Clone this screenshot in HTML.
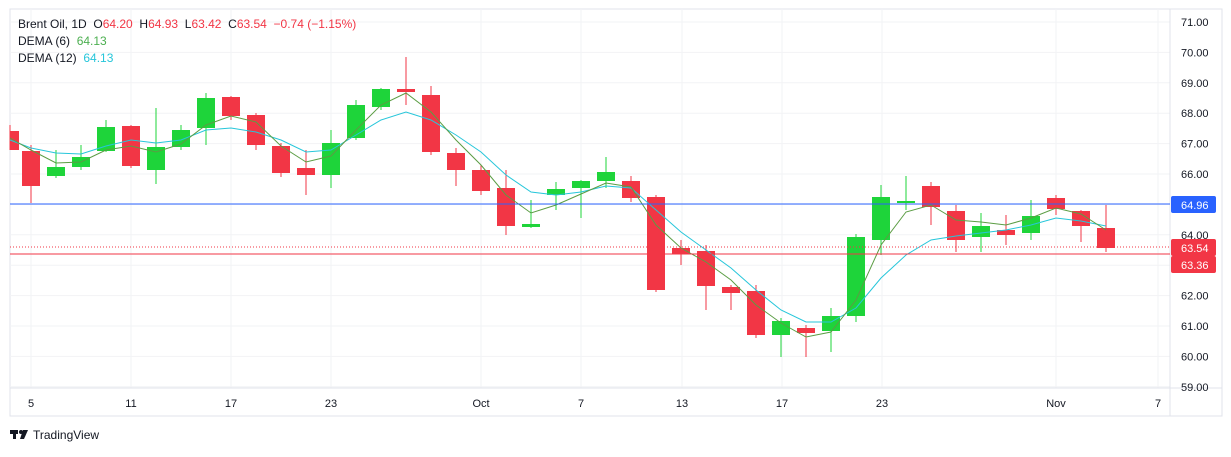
<!DOCTYPE html>
<html><head><meta charset="utf-8"><style>
body{margin:0;background:#fff;width:1231px;height:452px;overflow:hidden;font-family:"Liberation Sans",sans-serif}
svg text{font-family:"Liberation Sans",sans-serif}
.lg{white-space:pre}
</style></head><body>
<svg width="1231" height="452" xmlns="http://www.w3.org/2000/svg">
<rect x="10" y="9" width="1212" height="407" fill="#fff" stroke="#e0e3eb"/>
<g id="grid" stroke="#f2f3f5"></g>
<line x1="1170" y1="9" x2="1170" y2="416" stroke="#e0e3eb"/>
<line x1="10" y1="388" x2="1222" y2="388" stroke="#e0e3eb"/>
<g id="cand"></g>
<polyline id="d12" fill="none" stroke="#26c6da" stroke-width="1"/>
<polyline id="d6" fill="none" stroke="#5b9d44" stroke-width="1"/>
<line x1="10" y1="204" x2="1170" y2="204" stroke="#2962ff"/>
<line x1="10" y1="254" x2="1170" y2="254" stroke="#f23645"/>
<line x1="10" y1="247" x2="1170" y2="247" stroke="#f23645" stroke-dasharray="1,2"/>
<g id="ax" font-size="11" fill="#131722"></g>
<rect x="1171" y="196" width="45" height="17" fill="#2962ff" rx="2"/>
<text x="1181" y="209" font-size="11" fill="#fff">64.96</text>
<rect x="1171" y="239" width="45" height="17" fill="#f23645" rx="2"/>
<text x="1181" y="252" font-size="11" fill="#fff">63.54</text>
<rect x="1171" y="256" width="45" height="17" fill="#f23645" rx="2"/>
<text x="1181" y="269" font-size="11" fill="#fff">63.36</text>
<text class="lg" x="18" y="28" font-size="12" fill="#131722">Brent Oil, 1D  O<tspan fill="#f23645">64.20</tspan>  H<tspan fill="#f23645">64.93</tspan>  L<tspan fill="#f23645">63.42</tspan>  C<tspan fill="#f23645">63.54</tspan>  <tspan fill="#f23645">−0.74 (−1.15%)</tspan></text>
<text class="lg" x="18" y="45" font-size="12" fill="#131722">DEMA (6)  <tspan fill="#4caf50">64.13</tspan></text>
<text class="lg" x="18" y="62" font-size="12" fill="#131722">DEMA (12)  <tspan fill="#26c6da">64.13</tspan></text>
<g fill="#131722"><rect x="10" y="430" width="8" height="4"/><rect x="13" y="430" width="3" height="9"/><circle cx="21" cy="432" r="2"/><polygon points="23,430 28,430 24,439 20,439"/></g>
<text x="33" y="439" font-size="12" fill="#131722">TradingView</text>
</svg>
<script>
const ns="http://www.w3.org/2000/svg";
function el(p,t,a,txt){const e=document.createElementNS(ns,t);for(const k in a)e.setAttribute(k,a[k]);if(txt)e.textContent=txt;document.getElementById(p).appendChild(e);}
for(let i=0;i<=12;i++){const y=22+i*30.4;el('grid','line',{x1:10,x2:1170,y1:y,y2:y});if(i!=8)el('ax','text',{x:1181,y:y+4},(71-i).toFixed(2));}
const xl=[[31,'5'],[131,'11'],[231,'17'],[331,'23'],[481,'Oct'],[581,'7'],[682,'13'],[782,'17'],[882,'23'],[1056,'Nov'],[1158,'7']];
xl.forEach(([x,t])=>{el('grid','line',{x1:x,x2:x,y1:9,y2:388});el('ax','text',{x:x,y:407,'text-anchor':'middle'},t);});
const C=[[10,'r',131,150,125,150],[31,'r',151,186,145,203],[56,'g',176,167,150,178],[81,'g',167,157,145,170],[106,'g',151,127,120,152],[131,'r',126,166,125,168],[156,'g',170,147,108,184],[181,'g',147,130,125,150],[206,'g',128,98,93,145],[231,'r',97,116,96,120],[256,'r',115,145,113,150],[281,'r',146,173,143,177],[306,'r',168,175,150,195],[331,'g',175,143,130,188],[356,'g',138,105,100,140],[381,'g',107,89,88,110],[406,'r',89,92,57,105],[431,'r',95,152,86,155],[456,'r',153,170,148,186],[481,'r',170,191,165,195],[506,'r',188,226,170,235],[531,'g',227,224,200,228],[556,'g',195,189,182,210],[581,'g',188,181,180,218],[606,'g',181,172,157,188],[631,'r',181,198,176,202],[656,'r',197,290,195,292],[681,'r',248,254,240,265],[706,'r',251,286,245,310],[731,'r',287,293,285,310],[756,'r',291,335,285,338],[781,'g',335,321,318,357],[806,'r',328,333,325,357],[831,'g',331,316,308,352],[856,'g',316,237,234,322],[881,'g',240,197,185,255],[906,'g',203,201,176,210],[931,'r',186,207,182,225],[956,'r',211,240,205,252],[981,'g',237,226,213,252],[1006,'r',230,235,215,245],[1031,'g',233,216,200,240],[1056,'r',198,209,195,215],[1081,'r',211,226,210,242],[1106,'r',228,248,205,252]];
C.forEach(([x,c,o,cl,h,l])=>{const col=c=='g'?'#1ed43a':'#f23645';const t=Math.min(o,cl),b=Math.max(o,cl);
el('cand','line',{x1:x,x2:x,y1:h,y2:l,stroke:col});el('cand','rect',{x:Math.max(10,x-9),y:t,width:x-9<10?x+9-10:18,height:Math.max(2,b-t),fill:col});});
const d6=[[10,138],[31,150],[56,163],[81,162],[106,150],[131,146],[156,152],[181,144],[206,125],[231,116],[256,122],[281,146],[306,162],[331,156],[356,130],[381,105],[406,93],[431,112],[456,140],[481,165],[506,195],[531,213],[556,205],[581,194],[606,183],[631,187],[656,225],[681,248],[706,262],[731,280],[756,305],[781,323],[806,337],[831,332],[856,300],[881,245],[906,212],[931,205],[956,220],[981,222],[1006,225],[1031,218],[1056,208],[1081,214],[1106,230]];
const d12=[[10,140],[31,148],[56,153],[81,154],[106,146],[131,140],[156,143],[181,140],[206,130],[231,128],[256,132],[281,140],[306,152],[331,150],[356,135],[381,120],[406,112],[431,120],[456,135],[481,152],[506,175],[531,192],[556,195],[581,192],[606,186],[631,188],[656,210],[681,232],[706,250],[731,268],[756,290],[781,310],[806,322],[831,322],[856,308],[881,278],[906,255],[931,240],[956,236],[981,233],[1006,230],[1031,225],[1056,218],[1081,221],[1106,226]];
document.getElementById('d6').setAttribute('points',d6.join(' '));
document.getElementById('d12').setAttribute('points',d12.join(' '));
</script>
</body></html>
